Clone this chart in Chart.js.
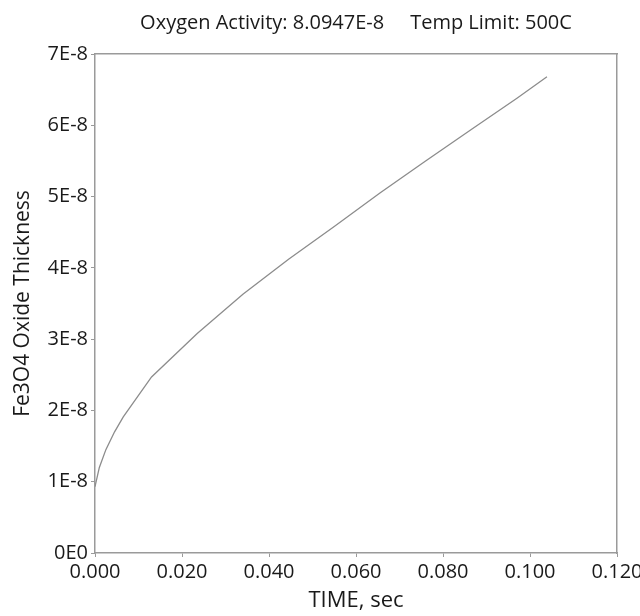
<!DOCTYPE html>
<html lang="en">
<head>
    <meta charset="UTF-8">
    <title>Fe3O4 Oxide Thickness</title>
    <script src="https://cdn.jsdelivr.net/npm/chart.js"></script>
    <style>
        body {
            margin: 0;
            padding: 0;
            background: #ffffff;
        }
        #chartBox {
            width: 640px;
            height: 616px;
        }
    </style>
</head>
<body>
<div id="chartBox">
    <canvas id="oxideChart" width="640" height="616"></canvas>
</div>
<script>
    // time (sec) and thickness
    const timeValues = [0, 0.001, 0.0025, 0.0045, 0.0065, 0.013, 0.0235, 0.034, 0.0445, 0.055, 0.0655, 0.076, 0.0865, 0.097, 0.1039];
    const thicknessValues = [0.93e-8, 1.2e-8, 1.45e-8, 1.7e-8, 1.91e-8, 2.47e-8, 3.08e-8, 3.63e-8, 4.12e-8, 4.58e-8, 5.05e-8, 5.5e-8, 5.94e-8, 6.38e-8, 6.68e-8];
    const xTicks = [0, 0.02, 0.04, 0.06, 0.08, 0.10, 0.12];
    const yTicks = [0, 1e-8, 2e-8, 3e-8, 4e-8, 5e-8, 6e-8, 7e-8];

    const fontName = '"Open Sans", sans-serif';
    const axisGray = '#9a9a9a';
    const textColor = '#1a1a1a';

    const points = timeValues.map((t, i) => ({ x: t, y: thicknessValues[i] }));

    const ctx = document.getElementById('oxideChart').getContext('2d');
    new Chart(ctx, {
        type: 'line',
        data: {
            datasets: [{
                data: points,
                xAxisID: 'x',
                yAxisID: 'y',
                borderColor: '#8c8c8c',
                borderWidth: 1.3,
                pointRadius: 0,
                tension: 0,
                fill: false
            }]
        },
        options: {
            responsive: false,
            animation: false,
            layout: { padding: 0 },
            plugins: {
                legend: { display: false },
                tooltip: { enabled: false }
            },
            scales: {
                x: {
                    type: 'linear',
                    position: 'bottom',
                    min: 0,
                    max: 0.12,
                    afterBuildTicks: s => { s.ticks = xTicks.map(v => ({ value: v })); },
                    afterFit: s => { s.height = 63; s.paddingLeft = 0; s.paddingRight = 0; },
                    border: { color: axisGray, width: 1.5 },
                    grid: { drawOnChartArea: false, drawTicks: true, tickLength: 4, color: axisGray },
                    ticks: {
                        color: textColor,
                        padding: 3,
                        maxRotation: 0,
                        autoSkip: false,
                        font: { family: fontName, size: 20 },
                        callback: v => v.toFixed(3)
                    },
                    title: {
                        display: true,
                        text: 'TIME, sec',
                        color: textColor,
                        font: { family: fontName, size: 22, lineHeight: 1.2 },
                        padding: { top: 2, bottom: 2 }
                    }
                },
                // top edge of the box, carries the chart title
                xTop: {
                    type: 'linear',
                    axis: 'x',
                    position: 'top',
                    min: 0,
                    max: 0.12,
                    afterFit: s => { s.height = 54; s.paddingLeft = 0; s.paddingRight = 0; },
                    border: { display: true, color: axisGray, width: 1.5 },
                    grid: { drawOnChartArea: false, drawTicks: false },
                    ticks: { display: false },
                    title: {
                        display: true,
                        text: 'Oxygen Activity: 8.0947E-8     Temp Limit: 500C',
                        color: textColor,
                        font: { family: fontName, size: 20, lineHeight: 1.2 },
                        padding: { top: 11, bottom: 11 }
                    }
                },
                y: {
                    type: 'linear',
                    position: 'left',
                    min: 0,
                    max: 7e-8,
                    afterBuildTicks: s => { s.ticks = yTicks.map(v => ({ value: v })); },
                    afterFit: s => { s.width = 95; s.paddingTop = 0; s.paddingBottom = 0; },
                    border: { color: axisGray, width: 1.5 },
                    grid: { drawOnChartArea: false, drawTicks: true, tickLength: 4, color: axisGray },
                    ticks: {
                        color: textColor,
                        padding: 3,
                        autoSkip: false,
                        font: { family: fontName, size: 20 },
                        callback: v => v === 0 ? '0E0' : Math.round(v / 1e-8) + 'E-8'
                    },
                    title: {
                        display: true,
                        text: 'Fe3O4 Oxide Thickness',
                        color: textColor,
                        font: { family: fontName, size: 21, lineHeight: 1.2 },
                        padding: { top: 10, bottom: 10 }
                    }
                },
                // right edge of the box
                yRight: {
                    type: 'linear',
                    axis: 'y',
                    position: 'right',
                    min: 0,
                    max: 7e-8,
                    afterFit: s => { s.width = 23; s.paddingTop = 0; s.paddingBottom = 0; },
                    border: { display: true, color: axisGray, width: 1.5 },
                    grid: { drawOnChartArea: false, drawTicks: false },
                    ticks: { display: false }
                }
            }
        }
    });
</script>
</body>
</html>
